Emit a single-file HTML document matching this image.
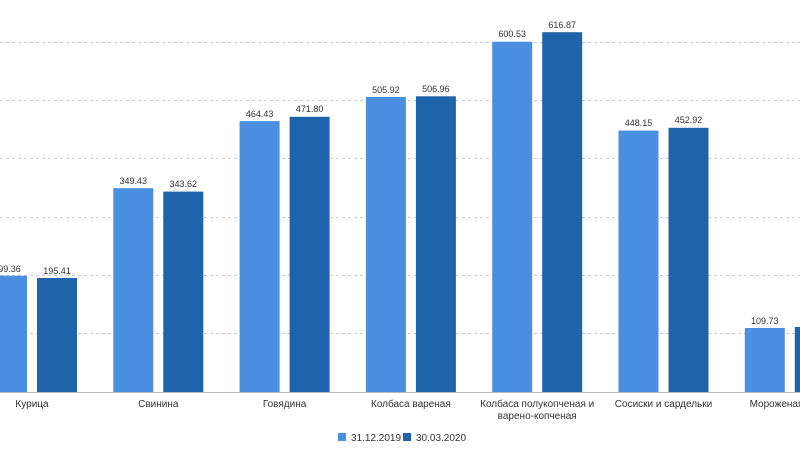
<!DOCTYPE html>
<html><head><meta charset="utf-8"><style>
html,body{margin:0;padding:0;background:#fff;width:800px;height:450px;overflow:hidden}
text{font-family:"Liberation Sans",sans-serif;fill:#333}
</style></head><body>
<svg width="800" height="450" xmlns="http://www.w3.org/2000/svg">
<g stroke="#ccc" stroke-dasharray="3,3" stroke-width="1">
<line x1="0" x2="800" y1="42.5" y2="42.5"/>
<line x1="0" x2="800" y1="100.5" y2="100.5"/>
<line x1="0" x2="800" y1="158.5" y2="158.5"/>
<line x1="0" x2="800" y1="217.5" y2="217.5"/>
<line x1="0" x2="800" y1="275.5" y2="275.5"/>
<line x1="0" x2="800" y1="333.5" y2="333.5"/>
</g>
<g fill="#4a8fe0">
<rect x="-13" y="275.7" width="40" height="116.3"/>
<rect x="113.3" y="188.2" width="40" height="203.8"/>
<rect x="239.6" y="121.1" width="40" height="270.9"/>
<rect x="365.9" y="96.9" width="40" height="295.1"/>
<rect x="492.2" y="41.7" width="40" height="350.3"/>
<rect x="618.5" y="130.6" width="40" height="261.4"/>
<rect x="744.8" y="328" width="40" height="64"/>
</g>
<g fill="#1f64ab">
<rect x="37" y="278" width="40" height="114"/>
<rect x="163.3" y="191.6" width="40" height="200.4"/>
<rect x="289.6" y="116.8" width="40" height="275.2"/>
<rect x="415.9" y="96.3" width="40" height="295.7"/>
<rect x="542.2" y="32.2" width="40" height="359.8"/>
<rect x="668.5" y="127.8" width="40" height="264.2"/>
<rect x="794.8" y="327" width="40" height="65"/>
</g>
<line x1="0" x2="800" y1="392.5" y2="392.5" stroke="#bbb"/>
<g font-size="9" text-anchor="middle">
<text x="7" y="272">199.36</text><text x="57" y="274">195.41</text>
<text x="133.3" y="184">349.43</text><text x="183.3" y="187">343.62</text>
<text x="259.6" y="117">464.43</text><text x="309.6" y="112">471.80</text>
<text x="385.9" y="93">505.92</text><text x="435.9" y="92">506.96</text>
<text x="512.2" y="37">600.53</text><text x="562.2" y="28">616.87</text>
<text x="638.5" y="126">448.15</text><text x="688.5" y="123">452.92</text>
<text x="764.8" y="324">109.73</text>
</g>
<g font-size="10" text-anchor="middle">
<text x="32" y="407">Курица</text>
<text x="158.3" y="407">Свинина</text>
<text x="284.6" y="407">Говядина</text>
<text x="410.9" y="407">Колбаса вареная</text>
<text x="537.2" y="407">Колбаса полукопченая и</text>
<text x="537.2" y="419">варено-копченая</text>
<text x="663.5" y="407">Сосиски и сардельки</text>
<text x="789.8" y="407">Мороженая рыба</text>
</g>
<rect x="338" y="433" width="8" height="8" fill="#4a8fe0"/>
<text x="351" y="441" font-size="10">31.12.2019</text>
<rect x="403" y="433" width="8" height="8" fill="#1f64ab"/>
<text x="416" y="441" font-size="10">30.03.2020</text>
</svg>
</body></html>
